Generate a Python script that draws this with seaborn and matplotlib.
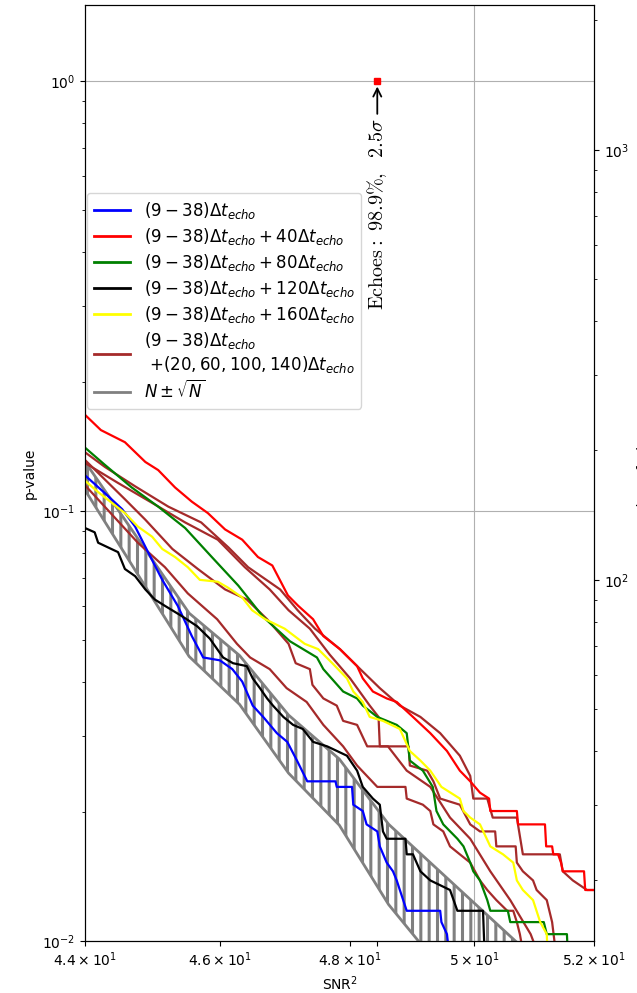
import numpy as np
import matplotlib
matplotlib.use("Agg")
import matplotlib.pyplot as plt
import seaborn as sns
from matplotlib.lines import Line2D
from matplotlib.ticker import FixedLocator, FixedFormatter

# total number of background trials: p-value = N / N_TOTAL
N_TOTAL = 1446

# cumulative counts N(>SNR^2) for each set of echo windows
snr_base = [44.00, 44.29, 44.54, 44.73, 44.92, 45.13, 45.36, 45.57, 45.74, 45.99, 46.18, 46.33, 46.49, 46.65,
            46.86, 47.02, 47.17, 47.33, 47.77, 47.79, 48.03, 48.05, 48.20, 48.26, 48.43, 48.47, 48.58, 48.68,
            48.74, 48.79, 48.90, 49.44, 49.46, 49.55, 49.60]
cnt_base = [175, 159, 146, 133, 116, 100, 87, 74, 66, 65, 62, 58, 51, 48, 44, 42, 38, 34, 34, 33, 33, 30, 29,
            27, 26, 24, 22, 21, 20, 19, 17, 17, 16, 15, 13]

snr_40 = [44.00, 44.23, 44.58, 44.88, 45.07, 45.32, 45.57, 45.81, 46.07, 46.33, 46.57, 46.79, 47.03, 47.19,
          47.42, 47.58, 47.84, 48.11, 48.20, 48.36, 48.58, 48.74, 49.00, 49.28, 49.55, 49.76, 49.93, 50.09,
          50.24, 50.26, 50.70, 50.72, 51.17, 51.19, 51.29, 51.31, 51.39, 51.44, 51.47, 51.83, 51.85, 52.00]
cnt_40 = [242, 223, 209, 188, 180, 164, 152, 143, 131, 124, 113, 108, 92, 87, 81, 74, 69, 63, 59, 55, 53, 52,
          48, 44, 40, 36, 34, 32, 31, 29, 29, 27, 27, 24, 24, 23, 23, 22, 21, 21, 19, 19]

snr_80 = [44.00, 44.29, 44.68, 45.07, 45.47, 45.87, 46.27, 46.65, 47.06, 47.48, 47.58, 47.89, 48.11, 48.20,
          48.43, 48.74, 48.90, 48.95, 49.16, 49.32, 49.38, 49.49, 49.72, 49.82, 49.93, 49.98, 50.09, 50.21,
          50.26, 50.55, 50.59, 51.15, 51.20, 51.54, 51.56]
cnt_80 = [203, 185, 164, 148, 132, 113, 97, 82, 72, 66, 62, 55, 53, 51, 48, 46, 44, 38, 36, 33, 29, 27, 25,
          24, 22, 21, 20, 18, 17, 17, 16, 16, 15, 15, 13]

snr_120 = [44.00, 44.14, 44.19, 44.48, 44.58, 44.73, 44.88, 45.02, 45.17, 45.44, 45.65, 45.84, 46.04, 46.19,
           46.40, 46.49, 46.60, 46.71, 46.80, 46.96, 47.11, 47.26, 47.42, 47.64, 47.95, 48.11, 48.20, 48.36,
           48.47, 48.52, 48.58, 48.88, 48.90, 49.00, 49.12, 49.28, 49.60, 49.72, 50.14, 50.17]
cnt_120 = [132, 129, 122, 116, 106, 102, 95, 90, 87, 82, 78, 73, 66, 64, 63, 59, 56, 53, 51, 48, 46, 45, 42,
           41, 39, 36, 33, 31, 30, 26, 25, 25, 23, 23, 21, 20, 19, 17, 17, 13]

snr_160 = [44.00, 44.19, 44.39, 44.58, 44.77, 44.98, 45.13, 45.32, 45.51, 45.69, 45.96, 46.11, 46.33, 46.48,
           46.68, 46.98, 47.29, 47.50, 47.72, 47.95, 48.05, 48.20, 48.31, 48.52, 48.79, 48.95, 49.12, 49.28,
           49.46, 49.76, 49.82, 49.93, 50.09, 50.26, 50.47, 50.64, 50.70, 50.80, 50.97, 51.09, 51.20, 51.22]
cnt_160 = [170, 160, 151, 143, 133, 126, 118, 113, 107, 100, 99, 96, 91, 85, 81, 77, 71, 69, 64, 59, 55, 52,
           48, 47, 45, 40, 38, 36, 33, 31, 29, 28, 27, 24, 23, 22, 20, 19, 18, 16, 15, 13]

# the four intermediate offsets (+20, +60, +100, +140)
snr_b1 = [44.00, 44.29, 44.73, 45.22, 45.71, 46.12, 46.42, 46.91, 47.18, 47.45, 47.84, 48.16, 48.47, 48.79,
          49.12, 49.44, 49.76, 49.93, 49.98, 50.21, 50.30, 50.70, 50.80, 51.42, 51.47, 51.64, 51.88, 52.00]
cnt_b1 = [198, 183, 165, 148, 136, 119, 107, 95, 85, 77, 69, 62, 56, 51, 48, 44, 39, 35, 31, 31, 28, 28, 23,
          23, 21, 20, 19, 19]

snr_b2 = [44.00, 44.48, 44.98, 45.47, 45.96, 46.37, 46.75, 47.04, 47.37, 47.68, 48.00, 48.31, 48.45, 48.47,
          48.93, 48.95, 49.23, 49.33, 49.44, 49.76, 49.93, 50.09, 50.34, 50.36, 50.68, 50.70, 50.80, 50.97,
          51.03, 51.20, 51.29, 51.37]
cnt_b2 = [187, 168, 151, 136, 124, 107, 95, 85, 77, 67, 59, 51, 48, 41, 41, 37, 36, 34, 31, 30, 27, 26, 26,
          24, 24, 22, 21, 20, 19, 18, 16, 13]

snr_b3 = [44.00, 44.29, 44.58, 44.88, 45.28, 45.66, 46.07, 46.40, 46.71, 47.04, 47.15, 47.37, 47.41, 47.58,
          47.79, 47.89, 48.11, 48.27, 48.60, 48.90, 49.28, 49.60, 49.93, 50.26, 50.59, 50.93, 51.10]
cnt_b3 = [190, 171, 154, 138, 118, 106, 95, 90, 81, 71, 64, 62, 57, 53, 51, 47, 46, 41, 41, 36, 33, 28, 25,
          21, 18, 15, 13]

snr_b4 = [44.00, 44.77, 45.17, 45.51, 45.95, 46.25, 46.45, 46.75, 47.01, 47.32, 47.58, 47.89, 48.11, 48.43,
          48.88, 48.90, 49.16, 49.28, 49.33, 49.49, 49.60, 49.76, 49.93, 50.09, 50.21, 50.36, 50.54, 50.64,
          50.70, 50.75, 50.83]
cnt_b4 = [166, 122, 107, 93, 81, 71, 66, 62, 56, 52, 46, 41, 37, 33, 33, 31, 30, 29, 27, 26, 24, 23, 22, 20,
          19, 18, 17, 17, 16, 15, 13]

# expected background N and its Poisson spread
band_snr = [44.00, 45.53, 46.29, 47.04, 47.83, 48.61, 51.41]
band_cnt = [175, 75, 59, 42, 32.6, 22.3, 8.7]

# observed echo result
obs_snr2 = 48.43
obs_p = 1.0
obs_text = r"$\mathrm{Echoes}:\ 98.9\%,\ \ 2.5\sigma$"

xtick_major = [50]
xtick_minor = [44, 46, 48, 52]
xlim = (44, 52)
ylim = (0.01, 1.502)

labels = [
    r"$(9-38)\Delta t_{echo}$",
    r"$(9-38)\Delta t_{echo}+40\Delta t_{echo}$",
    r"$(9-38)\Delta t_{echo}+80\Delta t_{echo}$",
    r"$(9-38)\Delta t_{echo}+120\Delta t_{echo}$",
    r"$(9-38)\Delta t_{echo}+160\Delta t_{echo}$",
    "$(9-38)\\Delta t_{echo}$\n $+(20,60,100,140)\\Delta t_{echo}$",
    r"$N\pm\sqrt{N}$",
]

plt.rcParams["hatch.linewidth"] = 2.2

fig = plt.figure(figsize=(6.37, 9.93), dpi=100)
ax = fig.add_axes([85 / 637, 1 - 941 / 993, 509 / 637, 936 / 993])

# background band
bc = np.array(band_cnt)
ax.fill_between(band_snr, (bc - np.sqrt(bc)) / N_TOTAL, (bc + np.sqrt(bc)) / N_TOTAL,
                facecolor="none", edgecolor="grey", hatch="||", linewidth=2.0, zorder=1)

series = [
    (snr_b1, cnt_b1, "brown"),
    (snr_b2, cnt_b2, "brown"),
    (snr_b3, cnt_b3, "brown"),
    (snr_b4, cnt_b4, "brown"),
    (snr_base, cnt_base, "blue"),
    (snr_40, cnt_40, "red"),
    (snr_80, cnt_80, "green"),
    (snr_120, cnt_120, "black"),
    (snr_160, cnt_160, "yellow"),
]
for s, c, col in series:
    sns.lineplot(x=s, y=np.array(c) / N_TOTAL, ax=ax, color=col, lw=1.6,
                 estimator=None, sort=False, zorder=3)

ax.set_xscale("log")
ax.set_yscale("log")
ax.set_xlim(*xlim)
ax.set_ylim(*ylim)

ax.xaxis.set_major_locator(FixedLocator(xtick_major))
ax.xaxis.set_major_formatter(FixedFormatter(
    [r"$\mathdefault{%g\times10^{1}}$" % (v / 10) for v in xtick_major]))
ax.xaxis.set_minor_locator(FixedLocator(xtick_minor + [obs_snr2]))
ax.xaxis.set_minor_formatter(FixedFormatter(
    [r"$\mathdefault{%g\times10^{1}}$" % (v / 10) for v in xtick_minor] + [""]))
ax.tick_params(axis="x", which="minor", length=3.5, width=0.8)
ax.grid(True, which="major", color="#b0b0b0", lw=0.8)
ax.set_axisbelow(True)

ax.set_xlabel("SNR$^2$", fontsize=10)
ax.set_ylabel("p-value", fontsize=10)

# observed point and annotation
ax.plot([obs_snr2], [obs_p], "s", color="red", ms=4, zorder=5)
ax.annotate(obs_text, xy=(obs_snr2, obs_p), xytext=(obs_snr2, 0.82), textcoords="data",
            rotation=90, ha="center", va="top", fontsize=14.5, math_fontfamily="cm",
            arrowprops=dict(arrowstyle="->", color="black", lw=1.3, shrinkA=1, shrinkB=4))

# right axis: number of trials
ax2 = ax.twinx()
ax2.set_yscale("log")
ax2.set_ylim(ylim[0] * N_TOTAL, ylim[1] * N_TOTAL)
ax2.set_ylabel("Number of triggers", fontsize=10, labelpad=6)

handles = [Line2D([], [], color=c, lw=2) for c in
           ["blue", "red", "green", "black", "yellow", "brown", "grey"]]
leg = ax.legend(handles, labels, loc="upper left", bbox_to_anchor=(0.004, 0.799),
                borderaxespad=0, fontsize=12, handlelength=2.2, labelspacing=0.3,
                borderpad=0.4)

fig.savefig("out.png", dpi=100)
